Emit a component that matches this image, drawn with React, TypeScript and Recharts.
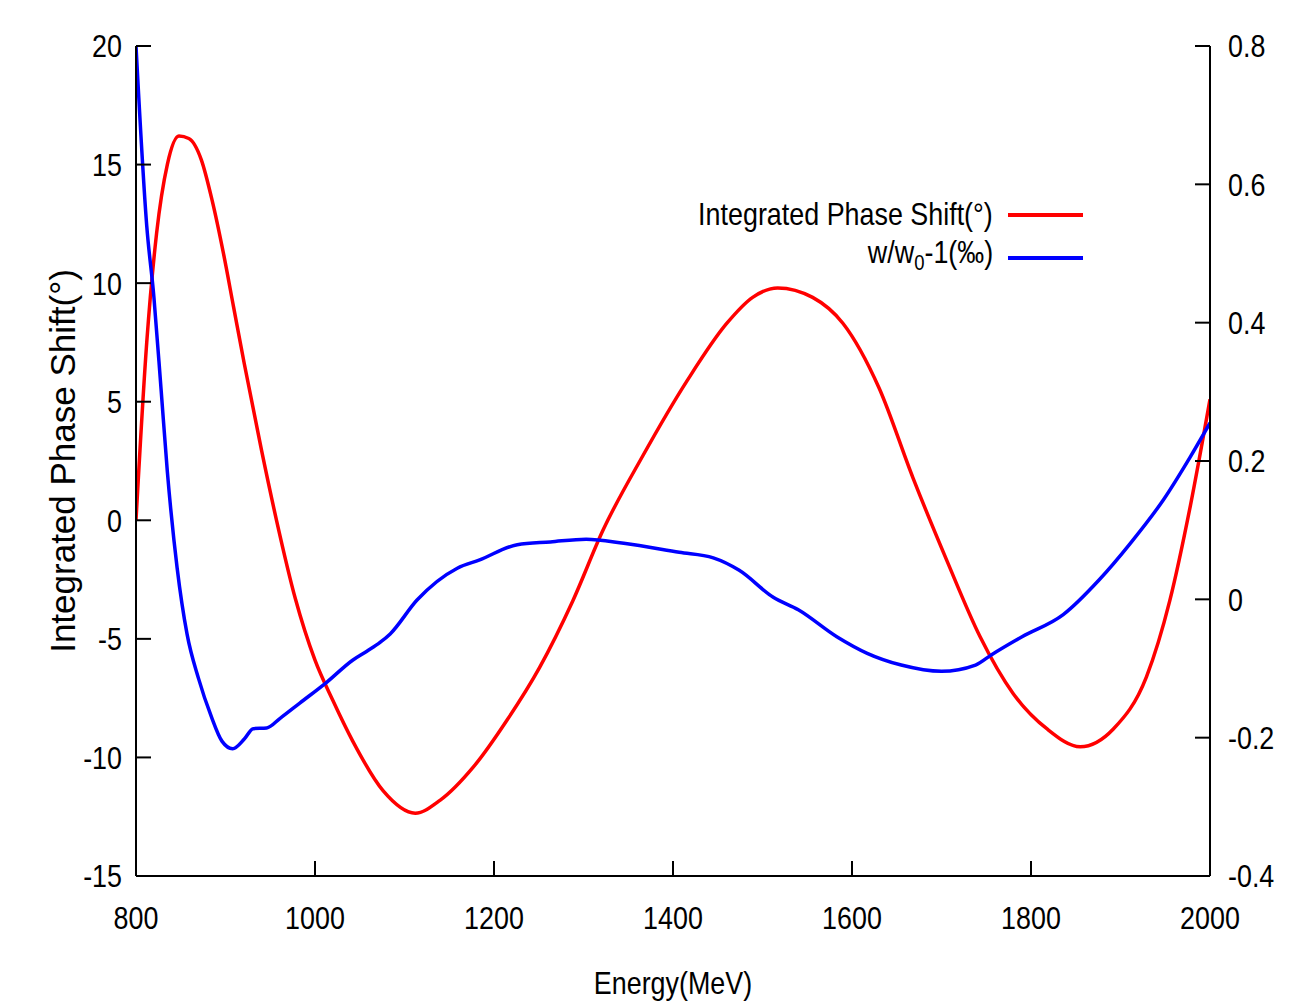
import { LineChart, Line, XAxis, YAxis, Legend } from 'recharts';

const SANS = "'Liberation Sans', Arial, sans-serif";
const SQUEEZE = 0.84;

// x axis (MeV)
const energyTicks = [800, 1000, 1200, 1400, 1600, 1800, 2000];
const phaseTicks = [-15, -10, -5, 0, 5, 10, 15, 20];
const ratioTicks = [-0.4, -0.2, 0, 0.2, 0.4, 0.6, 0.8];

// red series: integrated phase shift (deg)
const phaseEnergy = [
  800, 812, 823, 835, 848, 859, 873, 885, 898, 909, 921, 940, 957, 978, 1000, 1020, 1042, 1076, 1112,
  1140, 1177, 1215, 1251, 1288, 1322, 1366, 1416, 1460, 1489, 1517, 1556, 1590, 1630, 1668, 1706,
  1743, 1780, 1818, 1855, 1892, 1929, 1955, 1978, 2000,
];
const phaseShift = [
  0, 7.5, 12.1, 15.0, 16.2, 16.1, 15.2, 13.5, 11.2, 9.0, 6.6, 3.0, 0.0, -3.3, -5.9, -7.6, -9.3, -11.4,
  -12.35, -11.8, -10.4, -8.4, -6.2, -3.4, -0.4, 2.7, 5.9, 8.3, 9.4, 9.8, 9.4, 8.3, 5.6, 1.8, -1.7,
  -4.9, -7.3, -8.8, -9.55, -8.8, -6.6, -3.4, 0.6, 5.1,
];

// blue series: w/w0 - 1 (per mille)
const ratioEnergy = [
  800, 812, 820, 828, 835, 846, 857, 870, 884, 896, 908, 921, 931, 946, 961, 983, 1013, 1042, 1058,
  1073, 1084, 1114, 1159, 1184, 1226, 1263, 1303, 1345, 1407, 1445, 1474, 1512, 1540, 1583, 1617,
  1655, 1700, 1738, 1756, 1790, 1836, 1876, 1911, 1948, 1978, 2000,
];
const ratioValue = [
  0.8, 0.54, 0.437, 0.304, 0.185, 0.045, -0.05, -0.115, -0.169, -0.205, -0.216, -0.202, -0.187,
  -0.186, -0.172, -0.15, -0.12, -0.088, -0.075, -0.062, -0.05, -0.001, 0.045, 0.057, 0.079, 0.083,
  0.087, 0.081, 0.068, 0.06, 0.042, 0.003, -0.015, -0.054, -0.078, -0.095, -0.104, -0.095, -0.08,
  -0.054, -0.022, 0.028, 0.081, 0.144, 0.206, 0.255,
];

const phaseData = phaseEnergy.map((e, i) => ({ energy: e, phase: phaseShift[i] }));
const ratioData = ratioEnergy.map((e, i) => ({ energy: e, ratio: ratioValue[i] }));

const axisStroke = { stroke: '#000', strokeWidth: 2 };

function NarrowTick(props: any) {
  const { x, y, payload, textAnchor } = props;
  const v = payload.value;
  const label = Number.isInteger(v) ? String(v) : String(Number(v.toFixed(1)));
  return (
    <text
      transform={`translate(${x},${y}) scale(${SQUEEZE},1)`}
      textAnchor={textAnchor}
      dominantBaseline="central"
      fontFamily={SANS}
      fontSize={32}
      fill="#000"
    >
      {label}
    </text>
  );
}

function LegendBox() {
  const rows = [
    { color: '#ff0000', label: <>Integrated Phase Shift(°)</> },
    {
      color: '#0000ff',
      label: (
        <>
          w/w<sub style={{ fontSize: 22, verticalAlign: -7 }}>0</sub>-1(‰)
        </>
      ),
    },
  ];
  return (
    <div style={{ display: 'flex', flexDirection: 'column', alignItems: 'flex-end' }}>
      {rows.map((r, i) => (
        <div key={i} style={{ display: 'flex', alignItems: 'center', height: 43 }}>
          <span
            style={{
              fontFamily: SANS,
              fontSize: 32,
              color: '#000',
              lineHeight: '43px',
              whiteSpace: 'nowrap',
              display: 'inline-block',
              transform: `scaleX(${SQUEEZE})`,
              transformOrigin: 'right center',
            }}
          >
            {r.label}
          </span>
          <span
            style={{ display: 'inline-block', width: 75, height: 4, background: r.color, marginLeft: 15 }}
          />
        </div>
      ))}
    </div>
  );
}

export default function App() {
  return (
    <div style={{ position: 'absolute', left: 0, top: 0, background: '#fff' }}>
      <LineChart width={1302} height={1004} margin={{ top: 46, right: 8, bottom: 8, left: 40 }}>
        <XAxis
          xAxisId={0}
          dataKey="energy"
          type="number"
          domain={[800, 2000]}
          ticks={energyTicks}
          allowDataOverflow
          height={120}
          axisLine={axisStroke}
          tickLine={axisStroke}
          tickSize={-15}
          tickMargin={57}
          tick={(p: any) => <NarrowTick {...p} />}
          label={{
            content: (p: any) => {
              const cx = p.viewBox.x + p.viewBox.width / 2;
              const cy = p.viewBox.y + 107;
              return (
                <text
                  transform={`translate(${cx},${cy}) scale(${SQUEEZE},1)`}
                  textAnchor="middle"
                  dominantBaseline="central"
                  fontFamily={SANS}
                  fontSize={32}
                  fill="#000"
                >
                  Energy(MeV)
                </text>
              );
            },
          }}
        />
        <XAxis
          xAxisId="top"
          orientation="top"
          dataKey="energy"
          type="number"
          domain={[800, 2000]}
          ticks={energyTicks}
          allowDataOverflow
          height={0}
          axisLine={axisStroke}
          tickLine={axisStroke}
          tickSize={-15}
          tickFormatter={() => ''}
        />
        <YAxis
          yAxisId="left"
          type="number"
          domain={[-15, 20]}
          ticks={phaseTicks}
          allowDataOverflow
          width={96}
          axisLine={axisStroke}
          tickLine={axisStroke}
          tickSize={-15}
          tickMargin={29}
          tick={(p: any) => <NarrowTick {...p} />}
          label={{
            content: (p: any) => {
              const cx = p.viewBox.x + 22;
              const cy = p.viewBox.y + p.viewBox.height / 2;
              return (
                <text
                  x={cx}
                  y={cy}
                  transform={`rotate(-90 ${cx} ${cy})`}
                  textAnchor="middle"
                  dominantBaseline="central"
                  fontFamily={SANS}
                  fontSize={35}
                  fill="#000"
                >
                  Integrated Phase Shift(°)
                </text>
              );
            },
          }}
        />
        <YAxis
          yAxisId="right"
          orientation="right"
          type="number"
          domain={[-0.4, 0.8]}
          ticks={ratioTicks}
          allowDataOverflow
          width={84}
          axisLine={axisStroke}
          tickLine={axisStroke}
          tickSize={-15}
          tickMargin={33}
          tick={(p: any) => <NarrowTick {...p} />}
        />
        <Legend
          layout="horizontal"
          verticalAlign="middle"
          align="center"
          content={() => <LegendBox />}
          wrapperStyle={{ position: 'absolute', left: 583, top: 193, width: 500 }}
        />
        <Line
          data={phaseData}
          yAxisId="left"
          dataKey="phase"
          name="Integrated Phase Shift(°)"
          type="monotone"
          stroke="#ff0000"
          strokeWidth={3.5}
          dot={false}
          isAnimationActive={false}
        />
        <Line
          data={ratioData}
          yAxisId="right"
          dataKey="ratio"
          name="w/w0-1(‰)"
          type="monotone"
          stroke="#0000ff"
          strokeWidth={3.5}
          dot={false}
          isAnimationActive={false}
        />
      </LineChart>
    </div>
  );
}
